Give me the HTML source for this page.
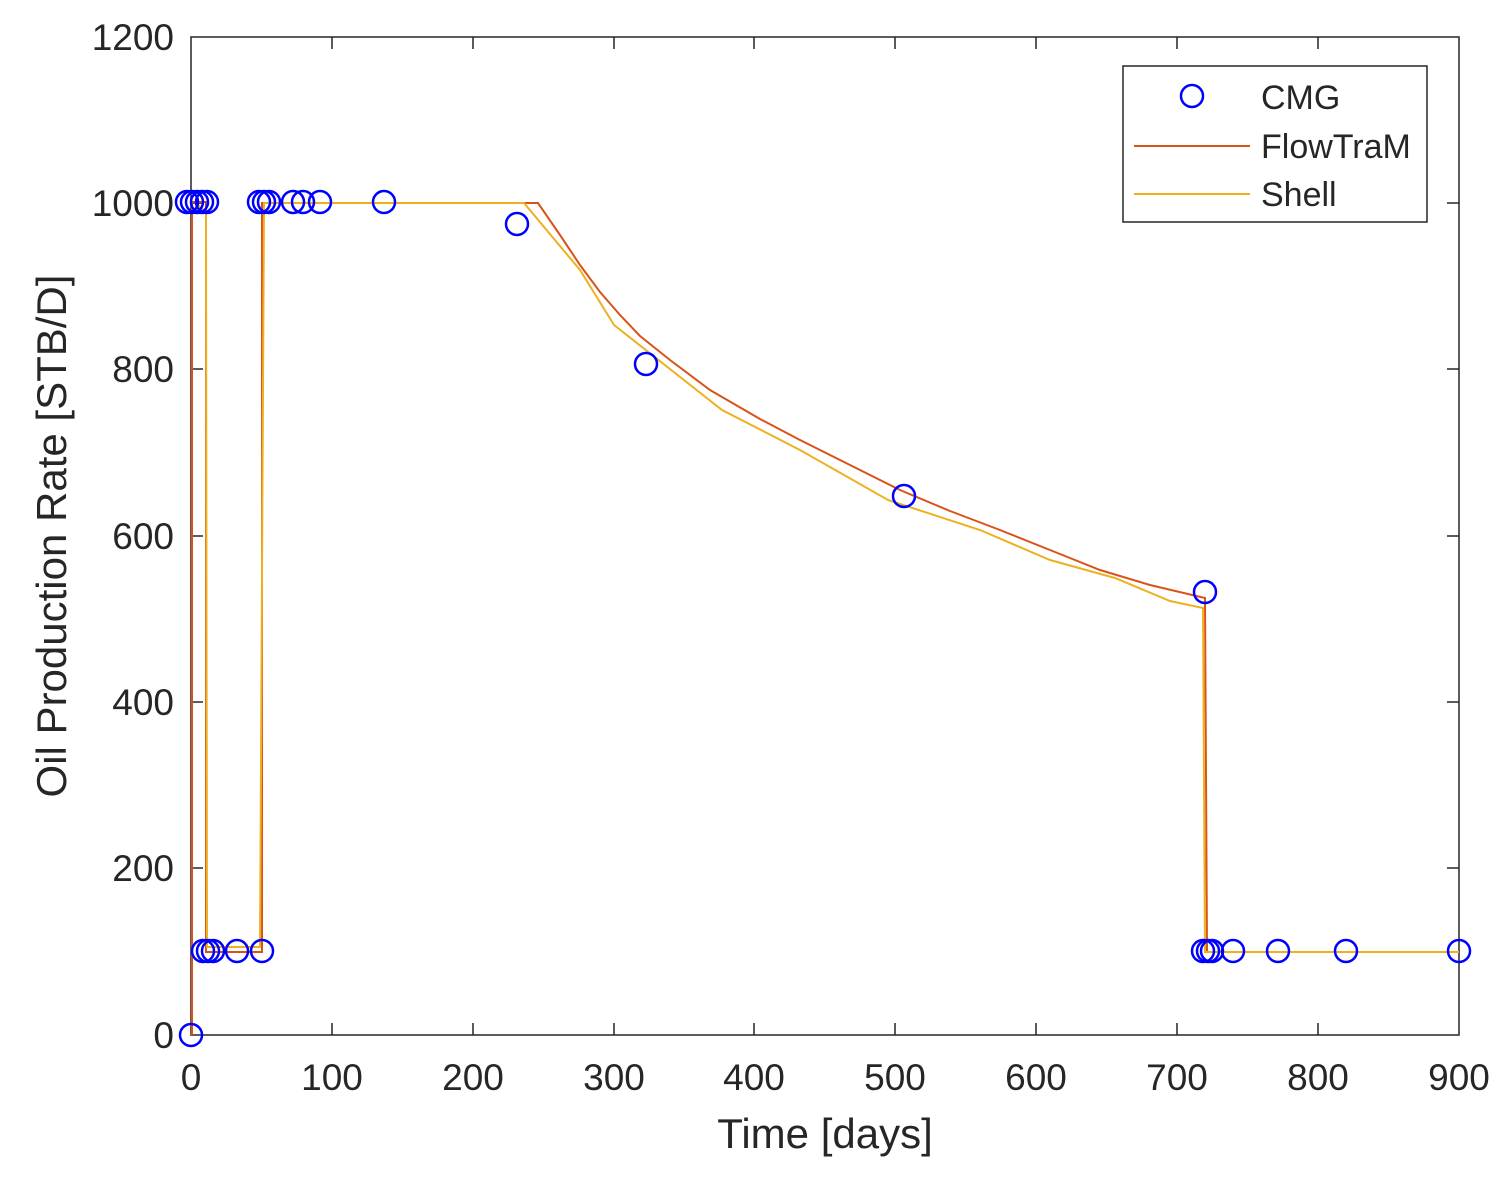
<!DOCTYPE html>
<html><head><style>body{margin:0;background:#fff}svg{display:block}text{font-family:"Liberation Sans",Arial,sans-serif;fill:#262626}</style></head>
<body>
<svg width="1511" height="1185" viewBox="0 0 1511 1185" xmlns="http://www.w3.org/2000/svg">
<rect x="191" y="37" width="1268" height="998" fill="#fff" stroke="#262626" stroke-width="1.5"/>
<g stroke="#262626" stroke-width="1.5">
<path d="M332 1035v-12M473 1035v-12M614 1035v-12M754 1035v-12M895 1035v-12M1036 1035v-12M1177 1035v-12M1318 1035v-12
M332 37v12M473 37v12M614 37v12M754 37v12M895 37v12M1036 37v12M1177 37v12M1318 37v12
M191 868h12M191 702h12M191 536h12M191 369h12M191 203h12
M1459 868h-12M1459 702h-12M1459 536h-12M1459 369h-12M1459 203h-12"/>
</g>
<g font-size="37" text-anchor="middle">
<text x="191" y="1090">0</text><text x="332" y="1090">100</text><text x="473" y="1090">200</text><text x="614" y="1090">300</text><text x="754" y="1090">400</text><text x="895" y="1090">500</text><text x="1036" y="1090">600</text><text x="1177" y="1090">700</text><text x="1318" y="1090">800</text><text x="1459" y="1090">900</text>
</g>
<g font-size="37" text-anchor="end">
<text x="174" y="1048">0</text><text x="174" y="881">200</text><text x="174" y="715">400</text><text x="174" y="549">600</text><text x="174" y="382">800</text><text x="174" y="216">1000</text><text x="174" y="50">1200</text>
</g>
<text x="825" y="1148" font-size="42" text-anchor="middle">Time [days]</text>
<text transform="translate(66,536) rotate(-90)" font-size="42" text-anchor="middle">Oil Production Rate [STB/D]</text>
<polyline fill="none" stroke="#D95319" stroke-width="2" points="192,1035 192,202 206,202 206,952 262,952 262,203 538,203 560,235 580,265 600,292 620,315 640,336 670,360 710,390 760,419 800,440 850,465 900,490 950,511 1000,530 1050,550 1100,570 1150,585 1205,598 1207,952 1459,952"/>
<polyline fill="none" stroke="#EDB120" stroke-width="2" points="196,203 206,213 207,947 260,947 264,203 524,203 580,270 614,325 722,410 800,450 888,500 980,530 1050,560 1115,578 1170,601 1203,608 1205,952 1459,952"/>
<g fill="none" stroke="#0000FF" stroke-width="2.5">
<circle cx="191" cy="1035" r="11"/><circle cx="187" cy="202" r="11"/><circle cx="192" cy="202" r="11"/><circle cx="197" cy="202" r="11"/><circle cx="202" cy="202" r="11"/><circle cx="207" cy="202" r="11"/>
<circle cx="203" cy="951" r="11"/><circle cx="208" cy="951" r="11"/><circle cx="213" cy="951" r="11"/><circle cx="237" cy="951" r="11"/><circle cx="262" cy="951" r="11"/>
<circle cx="259" cy="202" r="11"/><circle cx="264" cy="202" r="11"/><circle cx="269" cy="202" r="11"/><circle cx="293" cy="202" r="11"/><circle cx="303" cy="202" r="11"/><circle cx="320" cy="202" r="11"/><circle cx="384" cy="202" r="11"/>
<circle cx="517" cy="224" r="11"/><circle cx="646" cy="364" r="11"/><circle cx="904" cy="496" r="11"/><circle cx="1205" cy="592" r="11"/>
<circle cx="1203" cy="951" r="11"/><circle cx="1208" cy="951" r="11"/><circle cx="1212" cy="951" r="11"/><circle cx="1233" cy="951" r="11"/><circle cx="1278" cy="951" r="11"/><circle cx="1346" cy="951" r="11"/><circle cx="1459" cy="951" r="11"/>
</g>
<rect x="1123" y="66" width="304" height="156" fill="#fff" stroke="#262626" stroke-width="1.5"/>
<circle cx="1192" cy="96" r="11" fill="none" stroke="#0000FF" stroke-width="2.5"/>
<line x1="1134" y1="146" x2="1250" y2="146" stroke="#D95319" stroke-width="2"/>
<line x1="1134" y1="194" x2="1250" y2="194" stroke="#EDB120" stroke-width="2"/>
<g font-size="34"><text x="1261" y="109">CMG</text><text x="1261" y="158">FlowTraM</text><text x="1261" y="206">Shell</text></g>
</svg>
</body></html>
